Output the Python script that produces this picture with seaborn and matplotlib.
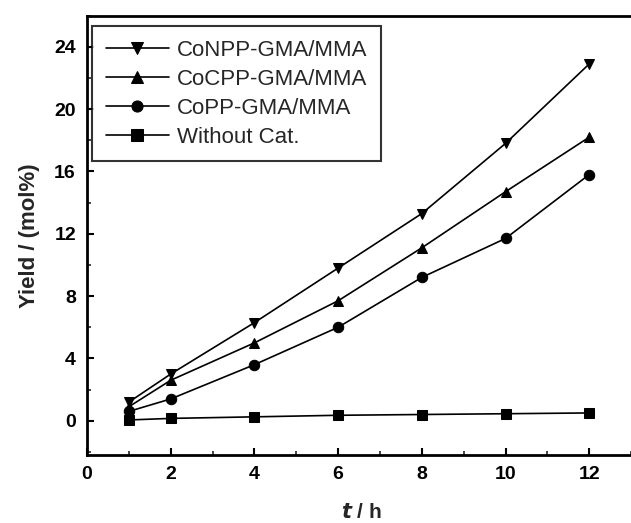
import matplotlib
matplotlib.use("Agg")
import matplotlib.pyplot as plt
import seaborn as sns
import pandas as pd
from matplotlib.ticker import MultipleLocator

time_h = [1, 2, 4, 6, 8, 10, 12]
conpp = [1.2, 3.0, 6.3, 9.8, 13.3, 17.8, 22.9]
cocpp = [0.9, 2.6, 5.0, 7.7, 11.1, 14.7, 18.2]
copp = [0.6, 1.4, 3.6, 6.0, 9.2, 11.7, 15.8]
without_cat = [0.05, 0.15, 0.25, 0.35, 0.4, 0.45, 0.5]

series_names = ["CoNPP-GMA/MMA", "CoCPP-GMA/MMA", "CoPP-GMA/MMA", "Without Cat."]
series_values = [conpp, cocpp, copp, without_cat]
markers = {"CoNPP-GMA/MMA": "v", "CoCPP-GMA/MMA": "^", "CoPP-GMA/MMA": "o", "Without Cat.": "s"}

rows = []
for name, vals in zip(series_names, series_values):
    for t, v in zip(time_h, vals):
        rows.append({"t": t, "yield": v, "series": name})
df = pd.DataFrame(rows)

sns.set_theme(style="ticks")
plt.rcParams["font.family"] = ["Liberation Sans", "DejaVu Sans"]

fig = plt.figure(figsize=(6.31, 5.23), dpi=100)
ax = fig.add_axes([0.138, 0.130, 0.870, 0.840])

sns.lineplot(data=df, x="t", y="yield", hue="series", style="series",
             markers=markers, dashes=False, palette=["black"] * 4,
             hue_order=series_names, style_order=series_names,
             markersize=7.5, linewidth=1.2, markeredgecolor="black", ax=ax)

ax.set_xlim(0, 13.12)
ax.set_ylim(-2.2, 26)
ax.xaxis.set_major_locator(MultipleLocator(2))
ax.xaxis.set_minor_locator(MultipleLocator(1))
ax.yaxis.set_major_locator(MultipleLocator(4))
ax.yaxis.set_minor_locator(MultipleLocator(2))
ax.tick_params(which="major", direction="in", length=5, width=1.5, labelsize=14, pad=8, colors="black")
ax.tick_params(which="minor", direction="in", length=3, width=1.2)
for lab in ax.get_xticklabels() + ax.get_yticklabels():
    lab.set_fontweight("bold")
for s in ax.spines.values():
    s.set_linewidth(2)
    s.set_color("black")

ax.set_xlabel(r"$\boldsymbol{t}$ / h", fontsize=15, fontweight="bold", labelpad=14)
ax.set_ylabel("Yield / (mol%)", fontsize=16, fontweight="bold", labelpad=10)

leg = ax.legend(loc="upper left", bbox_to_anchor=(0.009, 0.977), fontsize=16,
                frameon=True, fancybox=False, edgecolor="black", handlelength=2.85,
                handletextpad=0.35, labelspacing=0.36, borderpad=0.62, borderaxespad=0.0)
leg.get_frame().set_linewidth(1.5)
for h in leg.legend_handles:
    h.set_color("black")
    h.set_markersize(8)

fig.savefig("out.png", dpi=100)
